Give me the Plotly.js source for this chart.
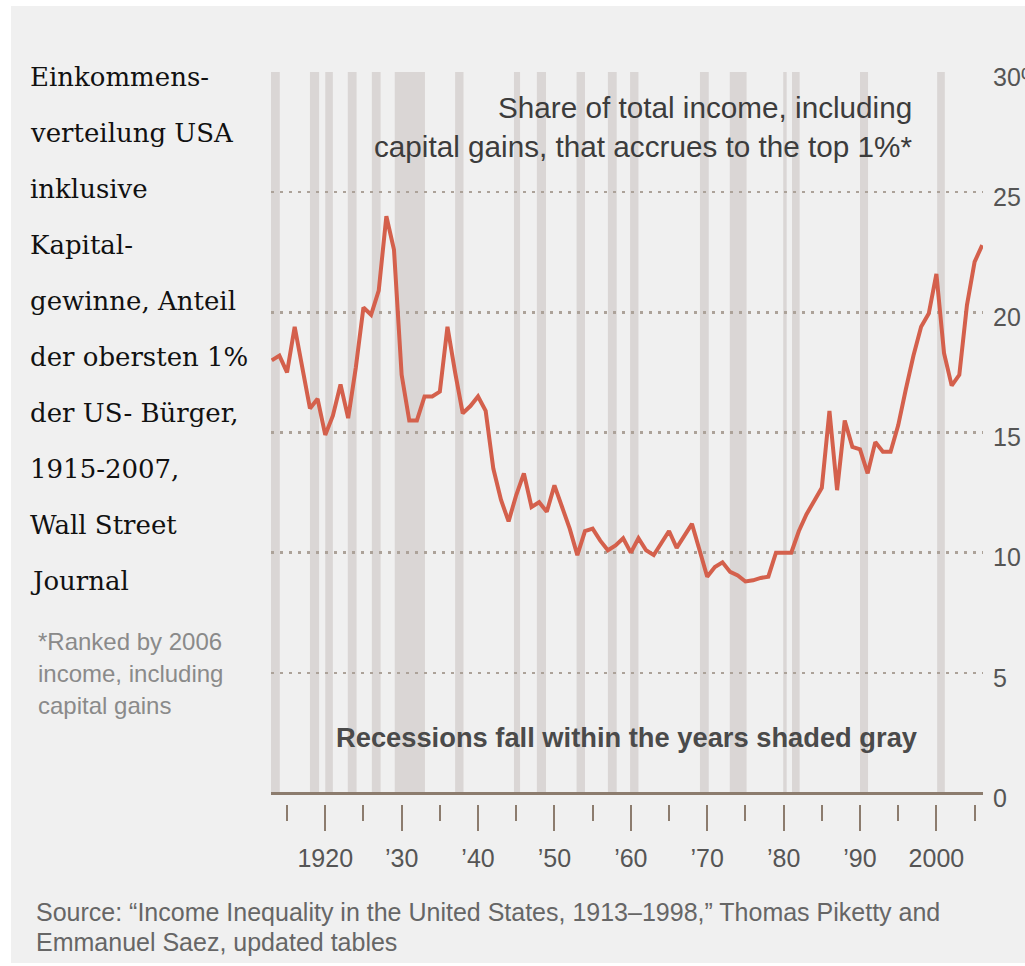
<!DOCTYPE html>
<html><head><meta charset="utf-8">
<script src="https://cdn.plot.ly/plotly-3.0.1.min.js"></script>
<style>
html,body{margin:0;padding:0;background:#ffffff;width:1025px;height:966px;overflow:hidden}
#chart{position:absolute;left:11px;top:6px;width:1014px;height:957px}
</style></head><body><div id="chart"></div>
<script>
// ---- data ----
const years = [1913,1914,1915,1916,1917,1918,1919,1920,1921,1922,
  1923,1924,1925,1926,1927,1928,1929,1930,1931,1932,
  1933,1934,1935,1936,1937,1938,1939,1940,1941,1942,
  1943,1944,1945,1946,1947,1948,1949,1950,1951,1952,
  1953,1954,1955,1956,1957,1958,1959,1960,1961,1962,
  1963,1964,1965,1966,1967,1968,1969,1970,1971,1972,
  1973,1974,1975,1976,1977,1978,1979,1980,1981,1982,
  1983,1984,1985,1986,1987,1988,1989,1990,1991,1992,
  1993,1994,1995,1996,1997,1998,1999,2000,2001,2002,
  2003,2004,2005,2006];
const topShare = [18.0,18.2,17.5,19.4,17.7,16.0,16.4,14.9,15.7,17.0,
  15.6,17.7,20.2,19.9,20.9,24.0,22.6,17.4,15.5,15.5,
  16.5,16.5,16.7,19.4,17.5,15.8,16.1,16.5,15.9,13.5,
  12.2,11.3,12.4,13.3,11.9,12.1,11.7,12.8,11.9,11.0,
  9.9,10.9,11.0,10.5,10.1,10.3,10.6,10.0,10.6,10.1,
  9.9,10.4,10.9,10.2,10.7,11.2,10.1,9.0,9.4,9.6,
  9.2,9.05,8.8,8.85,8.95,9.0,10.0,10.0,10.0,10.9,
  11.6,12.15,12.7,15.9,12.6,15.5,14.4,14.3,13.3,14.6,
  14.2,14.2,15.3,16.8,18.2,19.4,19.95,21.6,18.3,16.95,
  17.4,20.3,22.1,22.8];
const recessionStart = [1912.9,1918.0,1920.0,1922.95,1926.1,1929.1,1937.0,1944.7,1947.7,1952.9,1957.0,1959.9,1969.05,1972.95,1979.95,1981.1,1990.0,2000.1];
const recessionEnd   = [1914.05,1919.2,1921.0,1924.1,1927.25,1933.05,1938.1,1945.5,1948.9,1954.0,1958.15,1961.0,1970.2,1975.15,1980.4,1982.1,1991.05,2001.1];
const tickYears  = [1920,1930,1940,1950,1960,1970,1980,1990,2000];
const tickLabels = ['1920','\u201930','\u201940','\u201950','\u201960','\u201970','\u201980','\u201990','2000'];
const yTickVals   = [0,5,10,15,20,25,30];
const yTickLabels = ['0','5','10','15','20','25','30%'];
const sideNote = ['Einkommens-','verteilung USA','inklusive','Kapital-','gewinne, Anteil','der obersten 1%','der US- Bürger,','1915-2007,','Wall Street','Journal'];
const footNote = ['*Ranked by 2006','income, including','capital gains'];
const chartTitle = ['Share of total income, including','capital gains, that accrues to the top 1%*'];
const recessionNote = 'Recessions fall within the years shaded gray';
const sourceLines = ['Source: \u201cIncome Inequality in the United States, 1913\u20131998,\u201d Thomas Piketty and','Emmanuel Saez, updated tables'];

// ---- layout helpers (image pixel -> paper fraction) ----
const PL = 271, PW = 712, PB = 813, PH = 741;
const fx = X => (X - PL) / PW;
const fy = Y => (PB - Y) / PH;
function ann(text, X, Y, xanchor, font){
  return {text: text, xref:'paper', yref:'paper', x: fx(X), y: fy(Y),
    xanchor: xanchor, yanchor:'middle', showarrow:false, align: xanchor, font: font};
}

const annotations = [];
sideNote.forEach((t,i)=>annotations.push(ann(t, 28, 77 + i*56, 'left',
  {family:'DejaVu Serif, Liberation Serif, serif', size:26, color:'#111111'})));
footNote.forEach((t,i)=>annotations.push(ann(t, 36, 641 + i*32, 'left',
  {family:'Liberation Sans, Arial, sans-serif', size:24, color:'#8a8a8a'})));
chartTitle.forEach((t,i)=>annotations.push(ann(t, 914, 107 + i*39, 'right',
  {family:'Liberation Sans, Arial, sans-serif', size:29.7, color:'#3c3c3c'})));
annotations.push(ann(recessionNote, 627, 737, 'center',
  {family:'Liberation Sans, Arial, sans-serif', size:27.3, color:'#4a4a4a', weight:'bold'}));
sourceLines.forEach((t,i)=>annotations.push(ann(t, 34, 912 + i*30, 'left',
  {family:'Liberation Sans, Arial, sans-serif', size:25, color:'#666666'})));

const shapes = recessionStart.map((s,i)=>({type:'rect', xref:'x', yref:'y',
  x0:s, x1:recessionEnd[i], y0:0, y1:30, fillcolor:'#dad6d5', line:{width:0}, layer:'below'}));

const alias = {};
tickYears.forEach((y,i)=>{ alias[String(y)] = tickLabels[i]; });

const trace = {x: years, y: topShare, type:'scatter', mode:'lines',
  line:{color:'#d4604c', width:4}, hoverinfo:'skip'};

const layout = {
  width:1014, height:957,
  margin:{l:260, r:42, t:66, b:150},
  paper_bgcolor:'#f0f0f0', plot_bgcolor:'rgba(0,0,0,0)',
  showlegend:false,
  xaxis:{range:[1912.9,2006.1], anchor:'free', position:(PB-804)/PH,
    tickmode:'linear', tick0:1920, dtick:10, labelalias: alias,
    ticks:'outside', ticklen:26, tickwidth:2, tickcolor:'#8c7c6e',
    minor:{tick0:1915, dtick:5, ticks:'outside', ticklen:16, tickwidth:2, tickcolor:'#8c7c6e', showgrid:false},
    showgrid:false, zeroline:false, showline:false, ticklabelstandoff:6,
    tickfont:{family:'Liberation Sans, Arial, sans-serif', size:25, color:'#555555'}},
  yaxis:{range:[0,30], domain:[(PB-793)/PH, 1], side:'right',
    tickmode:'array', tickvals:yTickVals, ticktext:yTickLabels,
    ticks:'', ticklabelstandoff:9, ticklabelshift:5,
    showgrid:true, gridcolor:'#aca299', gridwidth:2.5, griddash:'3px,6px',
    zeroline:true, zerolinecolor:'#8c7c6e', zerolinewidth:3, showline:false,
    tickfont:{family:'Liberation Sans, Arial, sans-serif', size:25, color:'#555555'}},
  shapes: shapes,
  annotations: annotations
};
Plotly.newPlot('chart', [trace], layout, {staticPlot:true, displayModeBar:false});
</script></body></html>
